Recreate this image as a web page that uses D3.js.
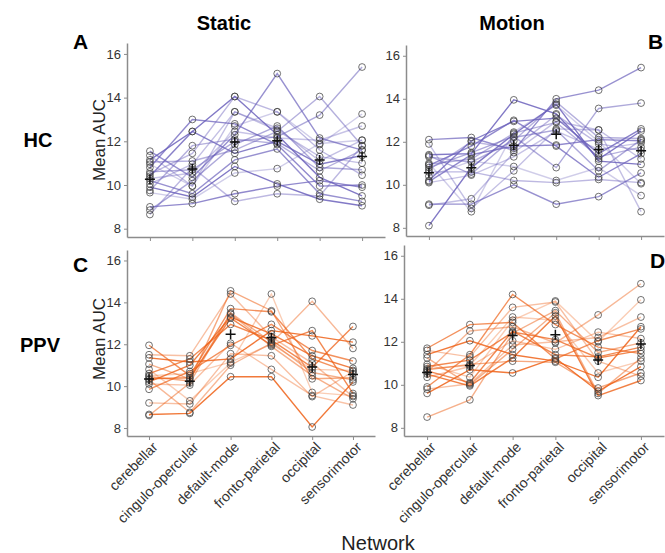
<!DOCTYPE html>
<html>
<head>
<meta charset="utf-8">
<script src="https://cdnjs.cloudflare.com/ajax/libs/d3/7.8.5/d3.min.js"></script>
<style>
  body { margin: 0; background: #fff; }
  svg { font-family: Arial, "Liberation Sans", sans-serif; }
</style>
</head>
<body>
<svg id="chart" width="665" height="553"></svg>
<script>
// networks on the x axis
const networks = ["cerebellar", "cingulo-opercular", "default-mode", "fronto-parietal", "occipital", "sensorimotor"];
const yTicks = [8, 10, 12, 14, 16];

// mean AUC per subject, one row per subject, columns follow `networks`
const hcStatic = [
  [11.55, 10.35, 12.3, 15.1, 12.15, 11.6],
  [11.35, 9.95, 13.35, 12.6, 11.1, 12.05],
  [11.15, 12.45, 14.05, 12.3, 10.35, 9.5],
  [11.05, 11.1, 11.6, 12.45, 14.05, 11.8],
  [10.95, 9.95, 12.7, 13.35, 11.85, 13.25],
  [10.8, 13.0, 12.8, 11.85, 9.95, 10.0],
  [10.6, 10.7, 12.0, 12.2, 13.2, 15.4],
  [10.5, 11.45, 14.05, 13.35, 11.6, 10.45],
  [10.4, 12.45, 11.45, 12.0, 10.95, 11.35],
  [10.3, 10.55, 12.45, 12.15, 12.05, 12.7],
  [10.2, 9.6, 11.15, 11.65, 9.6, 9.25],
  [10.05, 10.95, 13.35, 12.5, 11.3, 11.0],
  [9.9, 9.45, 10.85, 10.05, 9.35, 9.05],
  [9.75, 11.8, 12.1, 11.9, 10.65, 11.6],
  [9.65, 9.35, 10.55, 10.75, 11.9, 12.05],
  [9.0, 9.15, 9.6, 9.95, 10.2, 9.9],
  [8.85, 10.2, 11.85, 12.7, 10.8, 10.7],
  [8.65, 10.8, 9.25, 9.6, 9.5, 11.8]
];

const hcMotion = [
  [12.1, 12.2, 11.6, 14.0, 14.4, 15.45],
  [11.9, 8.9, 10.65, 12.6, 12.55, 8.75],
  [11.4, 11.45, 13.95, 13.3, 11.2, 12.5],
  [11.3, 11.05, 12.05, 13.85, 12.2, 12.15],
  [11.0, 8.75, 12.45, 13.7, 12.0, 10.05],
  [10.9, 11.8, 13.0, 11.8, 10.35, 11.45],
  [10.8, 11.5, 12.25, 10.8, 13.55, 13.8],
  [10.6, 10.6, 10.2, 10.1, 10.25, 10.1],
  [10.2, 12.05, 12.95, 13.1, 11.45, 12.6],
  [10.1, 10.45, 11.3, 12.5, 11.65, 11.95],
  [9.1, 9.1, 10.0, 9.1, 9.45, 10.55],
  [9.05, 9.35, 11.5, 12.95, 12.55, 11.2],
  [8.1, 10.8, 12.35, 13.75, 11.1, 10.95],
  [10.95, 11.2, 12.4, 12.9, 11.3, 11.75],
  [10.4, 11.1, 10.85, 10.2, 10.8, 9.5],
  [10.15, 11.4, 11.8, 11.85, 12.1, 12.05],
  [11.35, 10.5, 12.2, 12.55, 10.65, 12.1],
  [10.7, 12.0, 11.7, 13.25, 11.9, 11.6]
];

const ppvStatic = [
  [11.95, 10.5, 13.7, 13.55, 11.3, 10.6],
  [11.5, 11.45, 14.4, 12.35, 11.1, 9.5],
  [11.35, 11.15, 11.3, 12.65, 12.4, 12.1],
  [11.05, 10.35, 13.45, 11.9, 10.5, 9.4],
  [10.8, 9.3, 11.1, 14.4, 9.7, 9.55],
  [10.6, 11.3, 12.95, 12.2, 10.9, 12.85],
  [10.45, 10.25, 14.55, 13.6, 10.35, 10.4],
  [10.3, 8.75, 11.0, 12.05, 14.05, 11.8],
  [10.2, 11.0, 13.3, 12.5, 11.45, 10.85],
  [10.1, 10.05, 12.05, 10.8, 9.55, 9.1],
  [9.85, 10.7, 11.95, 12.95, 11.7, 11.2],
  [9.2, 9.15, 11.55, 11.45, 9.5, 10.7],
  [8.65, 8.7, 10.45, 10.45, 8.05, 10.2],
  [8.6, 10.15, 13.5, 12.1, 10.65, 10.3],
  [10.5, 10.6, 11.15, 12.0, 10.8, 10.75],
  [10.35, 10.4, 13.25, 11.95, 12.65, 9.65]
];

const ppvMotion = [
  [11.7, 12.8, 12.9, 11.2, 12.05, 12.6],
  [11.6, 11.3, 13.6, 13.85, 11.1, 10.4],
  [11.4, 12.05, 11.4, 11.1, 10.35, 12.7],
  [11.25, 10.0, 11.65, 13.35, 9.6, 11.25],
  [10.95, 10.35, 13.0, 13.9, 12.0, 13.95],
  [10.85, 11.15, 12.45, 12.1, 11.25, 11.6],
  [10.7, 10.95, 11.1, 11.05, 9.85, 10.55],
  [10.6, 12.5, 12.7, 11.95, 13.25, 14.7],
  [10.5, 9.95, 11.25, 13.2, 9.5, 10.2],
  [10.35, 10.85, 12.05, 11.65, 12.45, 12.15],
  [9.9, 11.4, 14.2, 12.8, 11.75, 11.45],
  [9.8, 10.05, 11.85, 12.0, 12.2, 13.15],
  [9.6, 10.7, 10.55, 11.25, 9.7, 10.85],
  [8.5, 9.3, 12.4, 13.45, 11.5, 11.95],
  [10.75, 10.9, 13.15, 13.0, 10.55, 11.1],
  [10.65, 10.1, 12.5, 11.4, 11.3, 11.75]
];

const svg = d3.select("#chart");

const HC_COLOR = "rgb(108, 98, 188)";
const PPV_COLOR = "rgb(238, 98, 24)";
// per-line opacity cycle so overlapping subjects stay distinguishable
const alphaCycle = [0.7, 0.4, 0.85, 0.5, 0.32, 0.75, 0.55, 0.45, 0.8, 0.38];

const panels = [
  { letter: "A", rows: hcStatic,  color: HC_COLOR,  left: 127, right: 385, top: 43,  bottom: 237, xLabels: false, letterX: 73,  letterY: 49 },
  { letter: "B", rows: hcMotion,  color: HC_COLOR,  left: 406, right: 664, top: 45,  bottom: 236, xLabels: false, letterX: 648, letterY: 49 },
  { letter: "C", rows: ppvStatic, color: PPV_COLOR, left: 127, right: 375, top: 250, bottom: 436, xLabels: true,  letterX: 73,  letterY: 272 },
  { letter: "D", rows: ppvMotion, color: PPV_COLOR, left: 404, right: 664, top: 245, bottom: 436, xLabels: true,  letterX: 650, letterY: 268 }
];

panels.forEach(p => {
  const x = d3.scalePoint().domain(networks).range([p.left, p.right]).padding(0.54);
  const y = d3.scaleLinear().domain([7.62, 16.5]).range([p.bottom, p.top]);
  const g = svg.append("g");

  // y axis
  const ya = g.append("g")
    .attr("transform", `translate(${p.left},0)`)
    .call(d3.axisLeft(y).tickValues(yTicks).tickSize(3).tickSizeOuter(0).tickPadding(3));
  ya.select(".domain").attr("stroke", "#8c8c8c").attr("stroke-width", 1.5);
  ya.selectAll(".tick line").attr("stroke", "#8c8c8c");
  ya.selectAll(".tick text").attr("fill", "#333").style("font-size", "13px")
    .style("font-family", "Arial, 'Liberation Sans', sans-serif");

  // x axis
  const xa = g.append("g")
    .attr("transform", `translate(0,${p.bottom})`)
    .call(d3.axisBottom(x).tickSize(4).tickSizeOuter(0));
  xa.select(".domain").attr("stroke", "#8c8c8c").attr("stroke-width", 1.5);
  xa.selectAll(".tick line").attr("stroke", "#8c8c8c");
  if (p.xLabels) {
    xa.selectAll(".tick text")
      .attr("fill", "#333")
      .style("font-size", "14px")
      .style("font-family", "Arial, 'Liberation Sans', sans-serif")
      .attr("text-anchor", "end")
      .attr("dy", null)
      .attr("y", 0)
      .attr("transform", "translate(9,12) rotate(-45)");
  } else {
    xa.selectAll(".tick text").remove();
  }

  // subject lines
  const line = d3.line().x((v, i) => x(networks[i])).y(v => y(v));
  g.append("g").selectAll("path")
    .data(p.rows)
    .join("path")
    .attr("d", line)
    .attr("fill", "none")
    .attr("stroke", p.color)
    .attr("stroke-width", 1.4)
    .attr("stroke-opacity", (d, i) => alphaCycle[i % alphaCycle.length]);

  // subject points
  const pts = [];
  p.rows.forEach(r => r.forEach((v, i) => pts.push({ net: networks[i], v })));
  g.append("g").selectAll("circle")
    .data(pts)
    .join("circle")
    .attr("cx", d => x(d.net))
    .attr("cy", d => y(d.v))
    .attr("r", 3.4)
    .attr("fill", "none")
    .attr("stroke", "#3a3a3a")
    .attr("stroke-opacity", 0.8)
    .attr("stroke-width", 0.9);

  // group means as crosses
  const means = networks.map((n, i) => ({ net: n, v: d3.mean(p.rows, r => r[i]) }));
  g.append("g").selectAll("path")
    .data(means)
    .join("path")
    .attr("d", d => {
      const cx = x(d.net), cy = y(d.v), s = 5;
      return `M${cx - s},${cy}H${cx + s}M${cx},${cy - s}V${cy + s}`;
    })
    .attr("stroke", "#111")
    .attr("stroke-width", 1.5);

  // panel letter
  svg.append("text")
    .attr("x", p.letterX).attr("y", p.letterY)
    .attr("font-size", 21).attr("font-weight", "bold")
    .attr("fill", "#000")
    .text(p.letter);
});

// column titles
svg.append("text").attr("x", 224).attr("y", 30).attr("text-anchor", "middle")
  .attr("font-size", 20).attr("font-weight", "bold").text("Static");
svg.append("text").attr("x", 512).attr("y", 30).attr("text-anchor", "middle")
  .attr("font-size", 20).attr("font-weight", "bold").text("Motion");

// row titles
svg.append("text").attr("x", 38).attr("y", 147).attr("text-anchor", "middle")
  .attr("font-size", 20).attr("font-weight", "bold").text("HC");
svg.append("text").attr("x", 40).attr("y", 352).attr("text-anchor", "middle")
  .attr("font-size", 20).attr("font-weight", "bold").text("PPV");

// y axis titles
[140, 339].forEach(cy => {
  svg.append("text")
    .attr("transform", `translate(105,${cy}) rotate(-90)`)
    .attr("text-anchor", "middle")
    .attr("font-size", 17)
    .attr("fill", "#222")
    .text("Mean AUC");
});

// x axis title
svg.append("text").attr("x", 378).attr("y", 550).attr("text-anchor", "middle")
  .attr("font-size", 20).attr("fill", "#222").text("Network");
</script>
</body>
</html>
